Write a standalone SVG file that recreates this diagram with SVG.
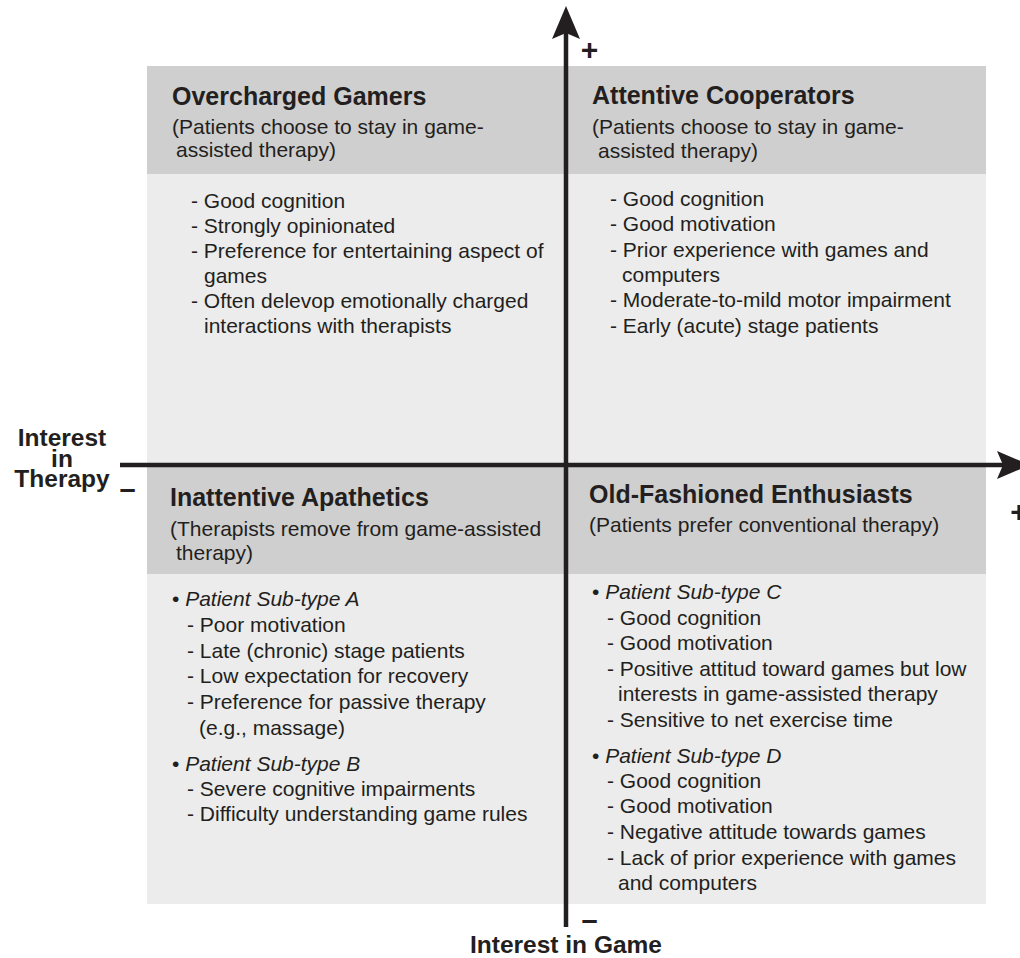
<svg xmlns="http://www.w3.org/2000/svg" width="1020" height="958" viewBox="0 0 1020 958">
<defs>
<style>
text{font-family:"Liberation Sans",Arial,sans-serif;fill:#231f20}
.t{font-size:25px;font-weight:bold}
.b{font-size:21px}
.ax{font-size:24.5px;font-weight:bold}
.hd{fill:#cfcfcf}
.bd{fill:#ececec}
.axis{stroke:#231f20;stroke-width:4.5;fill:none}
</style>
<marker id="ah" markerUnits="userSpaceOnUse" markerWidth="34" markerHeight="29" refX="6" refY="14" orient="auto" overflow="visible">
<path d="M0,0 L33,14 L0,28 L6,14 z" fill="#231f20"/>
</marker>
</defs>
<rect width="1020" height="958" fill="#ffffff"/>

<g id="q-overcharged-gamers">
<rect class="hd" x="147" y="66" width="419" height="108"/>
<rect class="bd" x="147" y="174" width="419" height="291"/>
<text class="t" x="172" y="105">Overcharged Gamers</text>
<text class="b" x="172" y="134">(Patients choose to stay in game-</text>
<text class="b" x="176" y="157">assisted therapy)</text>
<text class="b" x="191" y="208">- Good cognition</text>
<text class="b" x="191" y="233">- Strongly opinionated</text>
<text class="b" x="191" y="258">- Preference for entertaining aspect of</text>
<text class="b" x="204" y="283">games</text>
<text class="b" x="191" y="308">- Often delevop emotionally charged</text>
<text class="b" x="204" y="333">interactions with therapists</text>
</g>

<g id="q-attentive-cooperators">
<rect class="hd" x="566" y="66" width="420" height="108"/>
<rect class="bd" x="566" y="174" width="420" height="291"/>
<text class="t" x="592" y="104">Attentive Cooperators</text>
<text class="b" x="592" y="134">(Patients choose to stay in game-</text>
<text class="b" x="598" y="158">assisted therapy)</text>
<text class="b" x="610" y="206">- Good cognition</text>
<text class="b" x="610" y="231">- Good motivation</text>
<text class="b" x="610" y="257">- Prior experience with games and</text>
<text class="b" x="622" y="282">computers</text>
<text class="b" x="610" y="307">- Moderate-to-mild motor impairment</text>
<text class="b" x="610" y="333">- Early (acute) stage patients</text>
</g>

<g id="q-inattentive-apathetics">
<rect class="hd" x="147" y="465" width="419" height="109"/>
<rect class="bd" x="147" y="574" width="419" height="330"/>
<text class="t" x="170" y="506">Inattentive Apathetics</text>
<text class="b" x="170" y="536">(Therapists remove from game-assisted</text>
<text class="b" x="176" y="560">therapy)</text>
<text class="b" x="172" y="606">• <tspan font-style="italic">Patient Sub-type A</tspan></text>
<text class="b" x="187" y="632">- Poor motivation</text>
<text class="b" x="187" y="658">- Late (chronic) stage patients</text>
<text class="b" x="187" y="683">- Low expectation for recovery</text>
<text class="b" x="187" y="709">- Preference for passive therapy</text>
<text class="b" x="199" y="735">(e.g., massage)</text>
<text class="b" x="172" y="771">• <tspan font-style="italic">Patient Sub-type B</tspan></text>
<text class="b" x="187" y="796">- Severe cognitive impairments</text>
<text class="b" x="187" y="821">- Difficulty understanding game rules</text>
</g>

<g id="q-old-fashioned-enthusiasts">
<rect class="hd" x="566" y="465" width="420" height="109"/>
<rect class="bd" x="566" y="574" width="420" height="330"/>
<text class="t" x="589" y="503">Old-Fashioned Enthusiasts</text>
<text class="b" x="589" y="532">(Patients prefer conventional therapy)</text>
<text class="b" x="592" y="599">• <tspan font-style="italic">Patient Sub-type C</tspan></text>
<text class="b" x="607" y="625">- Good cognition</text>
<text class="b" x="607" y="650">- Good motivation</text>
<text class="b" x="607" y="676">- Positive attitud toward games but low</text>
<text class="b" x="618" y="701">interests in game-assisted therapy</text>
<text class="b" x="607" y="727">- Sensitive to net exercise time</text>
<text class="b" x="592" y="763">• <tspan font-style="italic">Patient Sub-type D</tspan></text>
<text class="b" x="607" y="788">- Good cognition</text>
<text class="b" x="607" y="813">- Good motivation</text>
<text class="b" x="607" y="839">- Negative attitude towards games</text>
<text class="b" x="607" y="865">- Lack of prior experience with games</text>
<text class="b" x="618" y="890">and computers</text>
</g>

<g id="connectors">
<line class="axis" x1="566" y1="927" x2="566" y2="33" marker-end="url(#ah)"/>
<line class="axis" x1="120" y1="465" x2="1003" y2="465" marker-end="url(#ah)"/>
</g>

<g id="axis-labels">
<text class="ax" x="62" y="446" text-anchor="middle">Interest</text>
<text class="ax" x="62" y="467" text-anchor="middle">in</text>
<text class="ax" x="62" y="487" text-anchor="middle">Therapy</text>
<text class="ax" x="566" y="953" text-anchor="middle">Interest in Game</text>
<text x="589.5" y="59.5" text-anchor="middle" font-size="30" font-weight="bold">+</text>
<text x="1019" y="522" text-anchor="middle" font-size="30" font-weight="bold">+</text>
<text x="127.5" y="499" text-anchor="middle" font-size="29" font-weight="bold">–</text>
<text x="589.5" y="930" text-anchor="middle" font-size="29" font-weight="bold">–</text>
</g>
</svg>
